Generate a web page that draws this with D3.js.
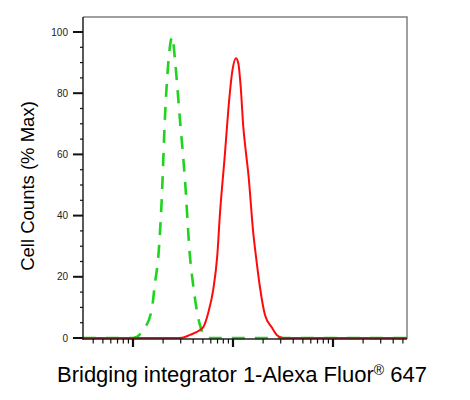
<!DOCTYPE html>
<html>
<head>
<meta charset="utf-8">
<script src="https://cdn.jsdelivr.net/npm/d3@7"></script>
<style>
  html, body { margin: 0; padding: 0; background: #fff; }
  svg { display: block; }
</style>
</head>
<body>
<svg id="chart" width="470" height="400"></svg>
<script>
// ---- data ----
const isotypeIntensity = [316, 589, 1000, 1268, 1538, 1660, 1791, 1936, 2089, 2254, 2472, 2630, 2951, 3311, 3715, 4009, 4335, 4677, 5248, 5888, 549541];
const isotypeCounts    = [0, 0, 0, 2.6, 9.2, 18, 26.6, 45, 72.3, 89.9, 98.5, 90.8, 71.2, 51.6, 26.5, 17, 9.2, 4.2, 0.4, 0, 0];

const stainedIntensity = [316, 2951, 3715, 4677, 5035, 5649, 6339, 6950, 7413, 8318, 8974, 9886, 10715, 11298, 11940, 12677, 13490, 14223, 15960, 16982, 18621, 20893, 24378, 27353, 31773, 549541];
const stainedCounts    = [0, 0, 1, 2.6, 3.5, 8.2, 15.7, 26.6, 40.8, 60.5, 74.5, 87.6, 91.4, 89.8, 82.1, 69, 60.4, 53.8, 34.2, 26.6, 16.5, 7.5, 3.5, 1, 0, 0];

const yTicks = [0, 20, 40, 60, 80, 100];
const yTitle = "Cell Counts (% Max)";
const xTitleMain = "Bridging integrator 1-Alexa Fluor";
const xTitleSup = "®";
const xTitleEnd = " 647";

// ---- layout ----
const svg = d3.select("#chart");
const mLeft = 83, mRight = 407, mTop = 17, mBottom = 339;

const x = d3.scaleLog()
  .domain([Math.pow(10, 2.5), Math.pow(10, 5.74)])
  .range([mLeft, mRight]);
const y = d3.scaleLinear().domain([0, 100]).range([338, 32]);

// frame (top/right gray)
svg.append("path")
  .attr("d", `M${mLeft},${mTop} H${mRight} V${mBottom}`)
  .attr("fill", "none").attr("stroke", "#808080").attr("stroke-width", 1.5);

// curves
const line = (xs, ys) => d3.line()
  .x((d, i) => x(xs[i]))
  .y((d, i) => y(ys[i]))
  .curve(d3.curveMonotoneX)(xs);

svg.append("path")
  .attr("d", line(isotypeIntensity, isotypeCounts))
  .attr("fill", "none")
  .attr("stroke", "#1ed41e")
  .attr("stroke-width", 2.6)
  .attr("stroke-dasharray", "13,10");

svg.append("path")
  .attr("d", line(stainedIntensity, stainedCounts))
  .attr("fill", "none")
  .attr("stroke", "#ff0a0a")
  .attr("stroke-width", 2);

// y axis
const yMinor = d3.range(0, 105, 5).filter(v => v % 20 !== 0);
const yAxisG = svg.append("g");
yAxisG.append("line")
  .attr("x1", mLeft).attr("x2", mLeft).attr("y1", mTop).attr("y2", mBottom + 1)
  .attr("stroke", "#222").attr("stroke-width", 1.5);
yAxisG.selectAll(".ymaj").data(yTicks).join("line")
  .attr("x1", mLeft - 10).attr("x2", mLeft)
  .attr("y1", d => y(d)).attr("y2", d => y(d))
  .attr("stroke", "#111").attr("stroke-width", 2);
yAxisG.selectAll(".ymin").data(yMinor).join("line")
  .attr("x1", mLeft - 3).attr("x2", mLeft)
  .attr("y1", d => y(d)).attr("y2", d => y(d))
  .attr("stroke", "#111").attr("stroke-width", 1.2);
yAxisG.selectAll(".ylab").data(yTicks).join("text")
  .attr("x", mLeft - 15).attr("y", d => y(d))
  .attr("dy", "0.35em")
  .attr("text-anchor", "end")
  .attr("font-family", "Liberation Sans, Arial, sans-serif")
  .attr("font-size", 10)
  .attr("fill", "#222")
  .text(d => d);

// x axis
svg.append("line")
  .attr("x1", mLeft).attr("x2", mRight).attr("y1", mBottom).attr("y2", mBottom)
  .attr("stroke", "#222").attr("stroke-width", 1.5);
const xTicksAll = [];
for (let e = 2; e <= 5; e++) {
  for (let k = 1; k <= 9; k++) {
    const v = k * Math.pow(10, e);
    if (v >= x.domain()[0] && v <= x.domain()[1]) xTicksAll.push({v, major: k === 1});
  }
}
svg.selectAll(".xt").data(xTicksAll).join("line")
  .attr("x1", d => x(d.v)).attr("x2", d => x(d.v))
  .attr("y1", mBottom).attr("y2", d => d.major ? mBottom + 8 : mBottom + 4.5)
  .attr("stroke", "#111").attr("stroke-width", d => d.major ? 2.2 : 1.2);

// titles
svg.append("text")
  .attr("transform", `translate(34,${(mTop + mBottom) / 2 + 8}) rotate(-90)`)
  .attr("text-anchor", "middle")
  .attr("font-family", "Liberation Sans, Arial, sans-serif")
  .attr("font-size", 18.5)
  .attr("fill", "#000")
  .text(yTitle);

const xt = svg.append("text")
  .attr("x", 57).attr("y", 382)
  .attr("font-family", "Liberation Sans, Arial, sans-serif")
  .attr("font-size", 22)
  .attr("fill", "#000");
xt.append("tspan").text(xTitleMain);
xt.append("tspan").attr("font-size", 14).attr("dy", -7).text(xTitleSup);
xt.append("tspan").attr("dy", 7).text(xTitleEnd);
</script>
</body>
</html>
